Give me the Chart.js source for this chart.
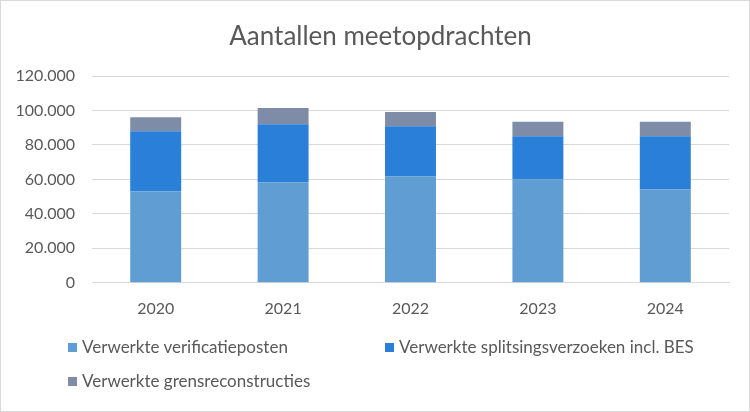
<!DOCTYPE html>
<html><head><meta charset="utf-8">
<script src="https://cdn.jsdelivr.net/npm/chart.js@4"></script>
<style>
html,body{margin:0;padding:0;background:#fff;}
#wrap{position:relative;width:748px;height:410px;border:1px solid #d9d9d9;overflow:hidden;font-family:Lato, 'Liberation Sans', sans-serif;}
#c{position:absolute;left:0;top:0;}
#title{position:absolute;left:0;top:19px;width:748px;padding-left:11px;box-sizing:border-box;text-align:center;font-size:26px;line-height:31px;color:#595959;}
.lg{position:absolute;font-size:17px;color:#595959;white-space:nowrap;line-height:20px;}
.lg i{display:inline-block;width:9px;height:9px;margin-right:5px;vertical-align:1px;}
</style></head>
<body>
<div id="wrap"><canvas id="c" width="748" height="410"></canvas>
<div id="title">Aantallen meetopdrachten</div>
<div id="legend"></div></div>
<script>
const categories = ['2020','2021','2022','2023','2024'];
const verificatieposten = [53000, 58300, 61800, 60000, 54200];
const splitsingsverzoeken = [35000, 33700, 29000, 25000, 30800];
const grensreconstructies = [8000, 9500, 8300, 8500, 8500];
const seriesNames = ['Verwerkte verificatieposten','Verwerkte splitsingsverzoeken incl. BES','Verwerkte grensreconstructies'];
const colors = ['#609dd2','#2a7fd8','#7f8ca7'];
const yTicks = [0,20000,40000,60000,80000,100000,120000];

function fmt(v){return String(v).replace(/\B(?=(\d{3})+(?!\d))/g,'.');}

const ctx = document.getElementById('c');
new Chart(ctx,{
  type:'bar',
  data:{labels:categories,datasets:[
    {label:seriesNames[0],data:verificatieposten,backgroundColor:colors[0]},
    {label:seriesNames[1],data:splitsingsverzoeken,backgroundColor:colors[1]},
    {label:seriesNames[2],data:grensreconstructies,backgroundColor:colors[2]}
  ]},
  options:{
    responsive:false,animation:false,
    datasets:{bar:{categoryPercentage:1,barPercentage:0.4}},
    layout:{padding:{left:9,right:20,top:75,bottom:85}},
    plugins:{legend:{display:false},tooltip:{enabled:false},title:{display:false}},
    scales:{
      x:{stacked:true,
        grid:{display:false},border:{color:'#d9d9d9'},
        ticks:{color:'#595959',font:{family:'Lato',size:16},padding:8}},
      y:{stacked:true,min:0,max:120000,
        afterBuildTicks:(s)=>{s.ticks=yTicks.map(v=>({value:v}));},
        afterFit:(s)=>{s.width=82;},
        grid:{color:'#d9d9d9',drawTicks:false},border:{display:false},
        ticks:{color:'#595959',font:{family:'Lato',size:16},padding:17,callback:(v)=>fmt(v)}}
    }
  }
});

const pos=[[67,336],[384,336],[67,370]];
const lg=document.getElementById('legend');
seriesNames.forEach((n,i)=>{
  const d=document.createElement('div');d.className='lg';
  d.style.left=pos[i][0]+'px';d.style.top=pos[i][1]+'px';
  d.innerHTML='<i style="background:'+colors[i]+'"></i>'+n;
  lg.appendChild(d);
});
</script>
</body></html>
